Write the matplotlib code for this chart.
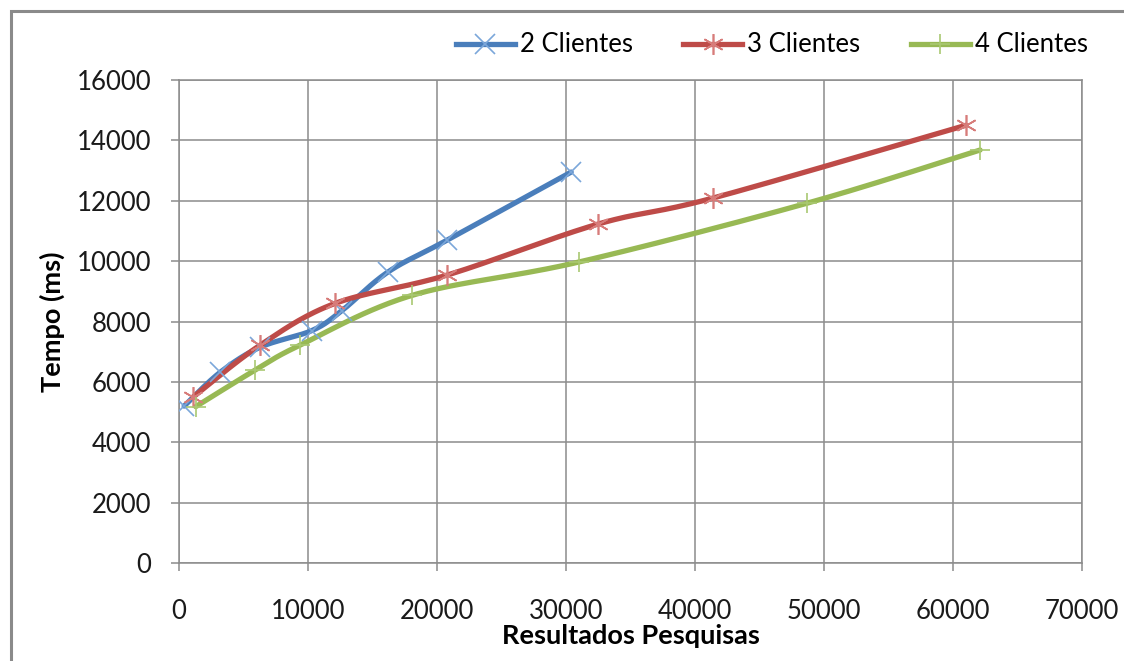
import numpy as np
import matplotlib.pyplot as plt
from matplotlib.patches import Rectangle

# resultados medidos por numero de clientes
x_2c = [400, 3200, 6300, 10300, 12600, 16200, 20800, 30400]
y_2c = [5200, 6320, 7150, 7700, 8350, 9640, 10700, 12950]

x_3c = [1100, 6300, 12100, 20800, 32500, 41400, 61000]
y_3c = [5500, 7220, 8600, 9540, 11230, 12090, 14500]

x_4c = [1300, 5900, 9400, 18100, 31000, 48700, 62100]
y_4c = [5180, 6390, 7220, 8870, 9970, 11920, 13680]

labels = ['2 Clientes', '3 Clientes', '4 Clientes']
line_colors = ['#4a7ebb', '#be4b48', '#98b954']
marker_colors = ['#7ba7da', '#d77c7a', '#a9c872']
markers = ['x', (6, 2, 0), '+']

XMAX, YMAX = 70000, 16000
W_PX, H_PX = 903, 483  # tamanho da area do grafico em pixels


def suaviza(xs, ys, n=30):
    # curva bezier estilo Excel, calculada em coordenadas de tela
    px = np.asarray(xs, float) / XMAX * W_PX
    py = np.asarray(ys, float) / YMAX * H_PX
    P = np.column_stack([px, py])
    k = len(P)
    out = [P[0]]
    t = np.linspace(0, 1, n)[1:, None]
    for i in range(k - 1):
        p0 = P[max(i - 1, 0)]
        p1 = P[i]
        p2 = P[i + 1]
        p3 = P[min(i + 2, k - 1)]
        c1 = p1 + (p2 - p0) / 6
        c2 = p2 - (p3 - p1) / 6
        seg = ((1 - t) ** 3) * p1 + 3 * ((1 - t) ** 2) * t * c1 \
            + 3 * (1 - t) * t ** 2 * c2 + t ** 3 * p2
        out.extend(seg)
    out = np.array(out)
    return out[:, 0] / W_PX * XMAX, out[:, 1] / H_PX * YMAX


plt.rcParams['font.family'] = ['Lato', 'DejaVu Sans']

fig = plt.figure(figsize=(11.24, 6.61), dpi=100)
ax = fig.add_axes([179 / 1124, 1 - 563 / 661, 903 / 1124, 483 / 661])

# moldura externa
fig.patches.append(Rectangle((11 / 1124, -0.1), 1.2, 1 - 11 / 661 + 0.1,
                             transform=fig.transFigure, fill=False,
                             edgecolor='#8a8a8a', linewidth=2.2))

series = [(x_2c, y_2c), (x_3c, y_3c), (x_4c, y_4c)]
handles = []
for (xs, ys), lab, lc, mc, mk in zip(series, labels, line_colors,
                                      marker_colors, markers):
    sx, sy = suaviza(xs, ys)
    ax.plot(sx, sy, color=lc, linewidth=3.8, solid_capstyle='round', zorder=3)
    ax.plot(xs, ys, linestyle='none', marker=mk, markersize=15,
            markeredgewidth=1.2, color=mc, zorder=4)
    h, = ax.plot([], [], color=lc, linewidth=3.8, marker=mk, markersize=15,
                 markeredgewidth=1.2, markeredgecolor=mc, label=lab)
    handles.append(h)

ax.set_xlim(0, XMAX)
ax.set_ylim(0, YMAX)
ax.set_xticks(np.arange(0, 70001, 10000))
ax.set_yticks(np.arange(0, 16001, 2000))
ax.grid(True, color='#8c8c8c', linewidth=1.1)
ax.set_axisbelow(True)
for s in ax.spines.values():
    s.set_color('#8c8c8c')
    s.set_linewidth(1.1)
ax.tick_params(direction='out', length=6, width=1.1, color='#8c8c8c',
               labelsize=18.5, labelcolor='#1a1a1a')
ax.tick_params(axis='x', pad=20)
ax.tick_params(axis='y', pad=14)

ax.set_xlabel('Resultados Pesquisas', fontsize=19.5, fontweight='bold',
              labelpad=0)
ax.set_ylabel('Tempo (ms)', fontsize=19.5, fontweight='bold', labelpad=8)

fig.legend(handles=handles, ncol=3, loc='center right',
           bbox_to_anchor=(1111 / 1124, 1 - 45 / 661), frameon=False,
           fontsize=18.5, handlelength=2.3, handletextpad=0.2,
           columnspacing=1.95)

fig.savefig('out.png', dpi=100)
